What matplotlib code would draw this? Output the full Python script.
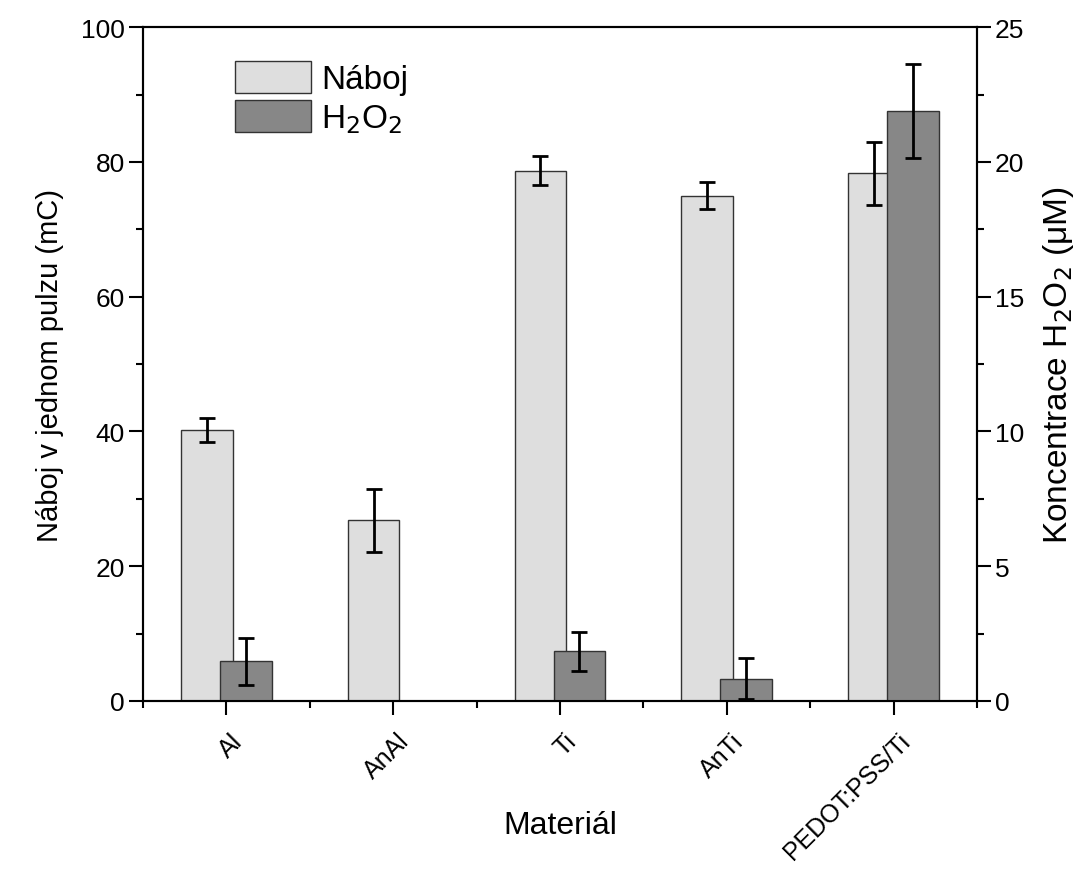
import numpy as np
import matplotlib
matplotlib.use('Agg')
import matplotlib.pyplot as plt
from matplotlib.ticker import MultipleLocator
from matplotlib.transforms import ScaledTranslation

plt.rcParams['font.family'] = ['Liberation Sans', 'DejaVu Sans']

# data
materials = ['Al', 'AnAl', 'Ti', 'AnTi', 'PEDOT:PSS/Ti']
naboj = [40.2, 26.8, 78.7, 75.0, 78.3]          # mC
naboj_err = [1.8, 4.7, 2.2, 2.0, 4.7]
h2o2 = [1.47, np.nan, 1.85, 0.83, 21.9]          # uM
h2o2_err = [0.86, np.nan, 0.72, 0.77, 1.75]

x = np.arange(1, len(materials) + 1)
w = 0.31
off = 0.117

fig = plt.figure(figsize=(10.91, 8.79), dpi=100)
ax = fig.add_axes([0.131, 0.2014, 0.7645, 0.7666])
ax2 = ax.twinx()

ax.bar(x - off, naboj, w, color='#dedede', edgecolor='#333333', linewidth=1.0, label='Náboj')
ax.errorbar(x - off, naboj, yerr=naboj_err, fmt='none', ecolor='black',
            elinewidth=2, capsize=6, capthick=2)

ax2.bar(x + off, h2o2, w, color='#878787', edgecolor='#333333', linewidth=1.0, label='H$_2$O$_2$')
ax2.errorbar(x + off, h2o2, yerr=h2o2_err, fmt='none', ecolor='black',
             elinewidth=2, capsize=6, capthick=2)

ax.set_xlim(0.5, 5.5)
ax.set_ylim(0, 100)
ax2.set_ylim(0, 25)

ax.set_xticks(x)
ax.xaxis.set_minor_locator(MultipleLocator(0.5))
ax.yaxis.set_major_locator(MultipleLocator(20))
ax.yaxis.set_minor_locator(MultipleLocator(10))
ax2.yaxis.set_major_locator(MultipleLocator(5))
ax2.yaxis.set_minor_locator(MultipleLocator(2.5))

for a in (ax, ax2):
    a.tick_params(which='major', direction='out', length=10, width=1.5, pad=3)
    a.tick_params(axis='y', labelsize=19)
    a.tick_params(which='minor', direction='out', length=5, width=1.5)
    for s in a.spines.values():
        s.set_linewidth(1.5)
ax.tick_params(axis='x', which='major', pad=16)

ax.set_xticklabels(materials, rotation=45, ha='right', va='center',
                   rotation_mode='anchor', fontsize=18)
# nudge the rotated labels to the right, like the original
# (after tick_params, which resets the label transforms)
for lab in ax.get_xticklabels():
    lab.set_transform(lab.get_transform() + ScaledTranslation(9 / 72, 0, fig.dpi_scale_trans))

ax.set_xlabel('Materiál', fontsize=23)
ax.xaxis.set_label_coords(0.5, -0.162)
ax.set_ylabel('Náboj v jednom pulzu (mC)', fontsize=21, labelpad=12)
ax2.set_ylabel('Koncentrace H$_2$O$_2$ (μM)', fontsize=24, labelpad=12)

h1, l1 = ax.get_legend_handles_labels()
h2, l2 = ax2.get_legend_handles_labels()
ax2.legend(h1 + h2, l1 + l2, loc='upper left', bbox_to_anchor=(0.11, 0.95),
           borderaxespad=0, borderpad=0, frameon=False, fontsize=24,
           handlelength=2.3, handleheight=1.1, handletextpad=0.3, labelspacing=0.15)

fig.savefig('out.png', dpi=100)
